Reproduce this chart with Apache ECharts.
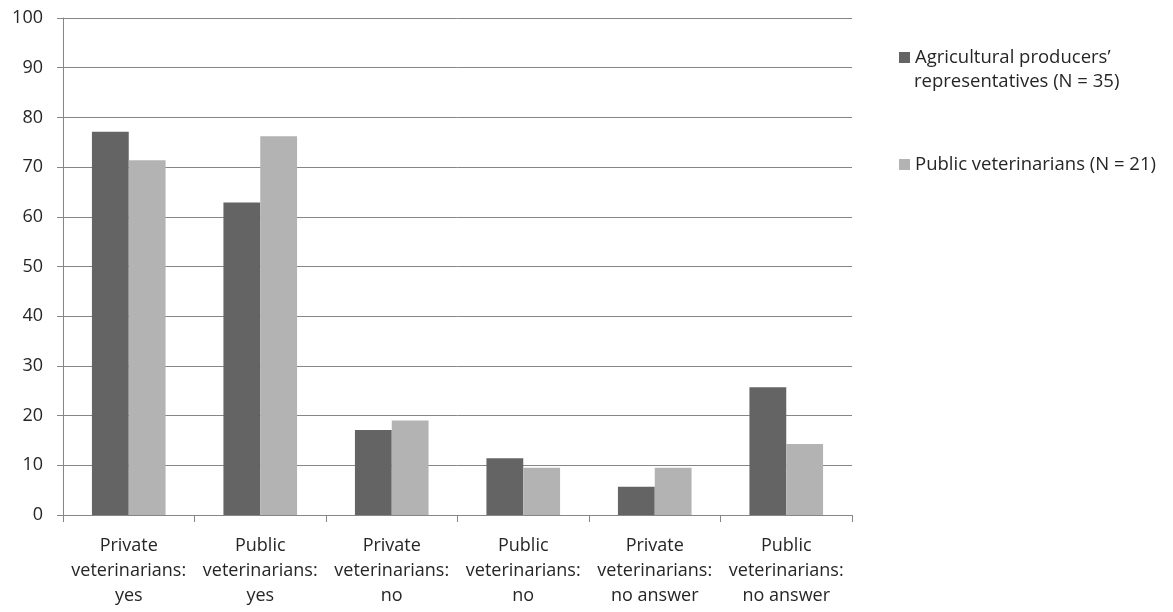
<!DOCTYPE html>
<html><head><meta charset="utf-8">
<script src="https://cdn.jsdelivr.net/npm/echarts@6/dist/echarts.min.js"></script>
<style>html,body{margin:0;padding:0;background:#fff}#c{width:1173px;height:612px}</style>
</head><body><div id="c"></div>
<script>
const categories = ['Private\nveterinarians:\nyes','Public\nveterinarians:\nyes','Private\nveterinarians:\nno','Public\nveterinarians:\nno','Private\nveterinarians:\nno answer','Public\nveterinarians:\nno answer'];
const producers = [77.1, 62.9, 17.1, 11.4, 5.7, 25.7];
const publicVets = [71.4, 76.2, 19.0, 9.5, 9.5, 14.3];
const seriesNames = ["Agricultural producers’ representatives (N = 35)", "Public veterinarians (N = 21)"];
const font = "'Open Sans', 'Liberation Sans', sans-serif";
const txt = '#262626';
const chart = echarts.init(document.getElementById('c'));
chart.setOption({
  animation:false,
  textStyle:{fontFamily:font},
  grid:{left:63,right:321,top:18,bottom:97},
  legend:[
    {data:[seriesNames[0]], left:894, top:43, itemWidth:11, itemHeight:11, icon:'rect',
     textStyle:{fontSize:18.5,color:txt,fontFamily:font},
     formatter:()=>"Agricultural producers’"},
    {data:[seriesNames[1]], left:894, top:150, itemWidth:11, itemHeight:11, icon:'rect',
     textStyle:{fontSize:18.5,color:txt,fontFamily:font}}
  ],
  graphic:[{type:'text',left:914,top:72,style:{text:'representatives (N = 35)',fontSize:18.5,fill:txt,fontFamily:font}}],
  xAxis:{type:'category',data:categories,
    axisLine:{lineStyle:{color:'#868686'}},
    axisTick:{show:true,length:7,lineStyle:{color:'#868686'}},
    axisLabel:{fontSize:18,color:txt,lineHeight:25,margin:18,interval:0,fontFamily:font}},
  yAxis:{type:'value',min:0,max:100,interval:10,
    axisLine:{show:true,lineStyle:{color:'#868686'}},
    axisTick:{show:true,length:6,lineStyle:{color:'#868686'}},
    splitLine:{lineStyle:{color:'#868686'}},
    axisLabel:{fontSize:18,color:txt,margin:20,fontFamily:font}},
  series:[
    {name:seriesNames[0],type:'bar',data:producers,barGap:'0%',barCategoryGap:'44%',itemStyle:{color:'#646464'}},
    {name:seriesNames[1],type:'bar',data:publicVets,itemStyle:{color:'#b3b3b3'}}
  ]
});
</script></body></html>
